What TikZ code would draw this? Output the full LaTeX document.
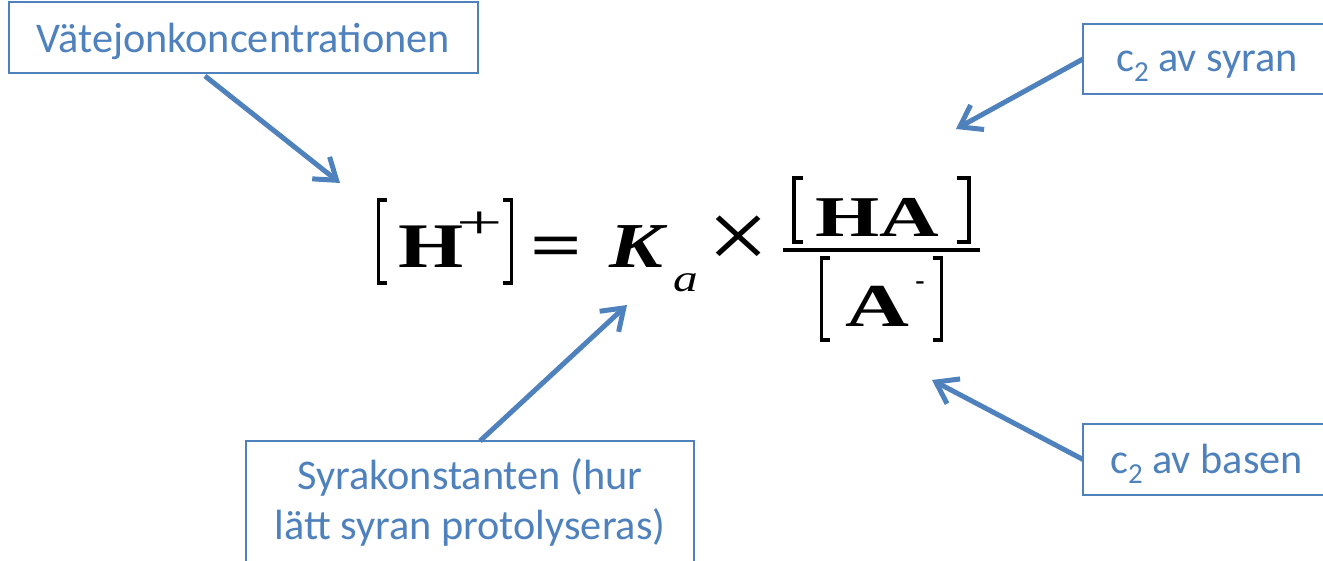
\documentclass[tikz,border=0pt]{standalone}
\usepackage{fontspec}
\usepackage{graphicx}
\usetikzlibrary{arrows.meta}
\newfontfamily\lblf{Carlito}
\newfontfamily\eqf{Liberation Serif}
\definecolor{myblue}{RGB}{79,129,189}
\newcommand{\gl}[3]{\scalebox{#1}[1]{\fontsize{#2}{#2}\selectfont #3}}
\newcommand{\sub}[1]{\raisebox{-10pt}{\fontsize{29}{29}\selectfont #1}}
\tikzset{
  box/.style={draw=myblue, line width=2pt, inner sep=0pt, outer sep=0pt},
  lbl/.style={text=myblue, font=\lblf\fontsize{42.3}{50}\selectfont, inner sep=0pt, anchor=base, align=center},
  glyph/.style={inner sep=0pt, outer sep=0pt, anchor=base, font=\eqf},
  brk/.style={line width=3.2pt, line join=miter, line cap=butt},
  arr/.style={draw=myblue, line width=5pt, -{Straight Barb[length=20pt,width=28pt]}}
}
\begin{document}
\begin{tikzpicture}[x=1pt,y=-1pt]
\useasboundingbox (0,0) rectangle (1323,561);
\clip (0,0) rectangle (1323,561);
% boxes
\node[box, minimum width=469pt, minimum height=71pt] (b1) at (243.5,37.5) {};
\node[box, minimum width=248pt, minimum height=70pt] (b2) at (1207,59) {};
\node[box, minimum width=248pt, minimum height=71pt] (b3) at (1207,459.5) {};
\node[box, minimum width=448pt, minimum height=136pt] (b4) at (470,509) {};
% labels
\node[lbl] (l1) at (243.5,53) {Vätejonkoncentrationen};
\node[lbl] (l2) at (1207,72) {c\sub{2} av syran};
\node[lbl] (l3) at (1206.5,473) {c\sub{2} av basen};
\node[lbl] (l4) at (470,539) {Syrakonstanten (hur\\lätt syran protolyseras)};
% formula
\draw[brk] (387,200) -- (378.5,200) -- (378.5,283) -- (387,283);
\node[glyph] (H) at (431,268) {\gl{1.32}{63.5}{\bfseries H}};
\node[glyph] (plus) at (480,238.5) {\gl{1.75}{47}{+}};
\draw[brk] (503,200) -- (511.5,200) -- (511.5,283) -- (503,283);
\node[glyph] (eq) at (556,268) {\gl{1.4}{65}{\bfseries =}};
\node[glyph] (K) at (636.5,268) {\gl{1.26}{64}{\bfseries\itshape K}};
\node[glyph] (a) at (686,292) {\gl{1.3}{38}{\itshape a}};
\node[glyph] (times) at (739,270) {\gl{1.1}{100}{\char"D7}};
\draw[brk] (803,178) -- (794,178) -- (794,242) -- (803,242);
\node[glyph] (HA) at (877,237) {\gl{1.43}{57.7}{\bfseries HA}};
\draw[brk] (957,178) -- (969,178) -- (969,242) -- (957,242);
\draw[line width=3.5pt] (783,250) -- (980,250);
\draw[brk] (830,258) -- (821.5,258) -- (821.5,340) -- (830,340);
\node[glyph] (A) at (877,327) {\gl{1.45}{61}{\bfseries A}};
\node[glyph] (minus) at (920,289.5) {\gl{1}{28}{\bfseries -}};
\draw[brk] (933,258) -- (941.5,258) -- (941.5,340) -- (933,340);
% arrow tips
\coordinate (t1) at (340,183);
\coordinate (t2) at (956,129);
\coordinate (t3) at (627,305);
\coordinate (t4) at (932,380);
% arrows
\draw[arr] ([xshift=-38.5pt,yshift=-3pt]b1.south) -- (t1);
\draw[arr] (b2.west) -- (t2);
\draw[arr] ([xshift=10pt]b4.north) -- (t3);
\draw[arr] (b3.west) -- (t4);
\end{tikzpicture}
\end{document}
